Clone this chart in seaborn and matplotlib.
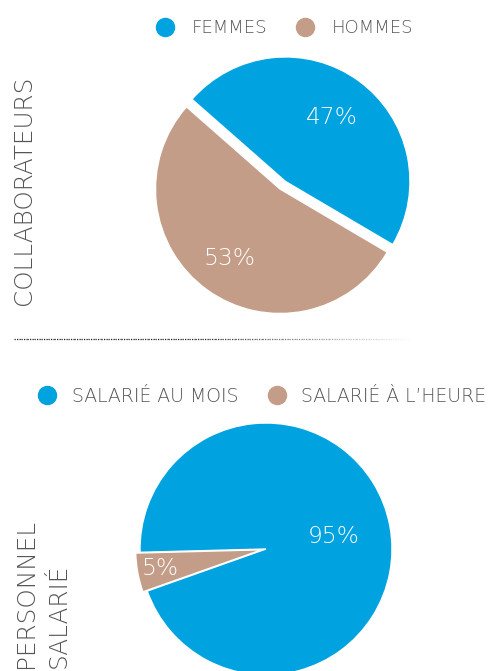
import matplotlib
matplotlib.use("Agg")
import matplotlib.pyplot as plt
import seaborn as sns
import numpy as np
from matplotlib.lines import Line2D

# ---- data ----
collab_labels = ["FEMMES", "HOMMES"]
collab_values = [47, 53]
salarie_labels = ["SALARIÉ AU MOIS", "SALARIÉ À L\u2019HEURE"]
salarie_values = [95, 5]
section_titles = ["COLLABORATEURS", "PERSONNEL", "SALARIÉ"]

sns.set_theme(style="white")
plt.rcParams['font.family'] = ['DejaVu Sans']
plt.rcParams['font.weight'] = 'light'

BLUE = "#00A2E0"
BROWN = "#C49D88"
TXT = "#555555"
colors = sns.color_palette([BLUE, BROWN])

W, H = 492, 671
fig = plt.figure(figsize=(W / 100, H / 100), dpi=100)


def px_axes(cx, cy, half):
    return fig.add_axes([(cx - half) / W, (H - cy - half) / H, 2 * half / W, 2 * half / H])


def label_wedges(ax, wedges, values, dists, size):
    for w, v, d in zip(wedges, values, dists):
        th = np.deg2rad((w.theta1 + w.theta2) / 2)
        x = w.center[0] + d * w.r * np.cos(th)
        y = w.center[1] + d * w.r * np.sin(th)
        ax.text(x, y, f"{v}%", color="white", fontsize=size, fontweight="light",
                ha="center", va="center")


# ---- top pie ----
r1 = 124.5
ax1 = px_axes(280, 189, 135)
w1, _ = ax1.pie(collab_values, colors=colors, startangle=-30.5, counterclock=True,
                explode=[0.075, 0], wedgeprops=dict(edgecolor="white", linewidth=1))
lim = 135 / r1
ax1.set_xlim(-lim, lim); ax1.set_ylim(-lim, lim)
ax1.set_aspect("auto")
ax1.axis("off")
label_wedges(ax1, w1, collab_values, [0.63, 0.69], 16.8)

# ---- bottom pie ----
r2 = 126
ax2 = px_axes(266, 549, 135)
w2, _ = ax2.pie(salarie_values, colors=colors, startangle=199.5, counterclock=True,
                explode=[0, 0.035], wedgeprops=dict(edgecolor="white", linewidth=1))
lim = 135 / r2
ax2.set_xlim(-lim, lim); ax2.set_ylim(-lim, lim)
ax2.set_aspect("auto")
ax2.axis("off")
label_wedges(ax2, w2, salarie_values, [0.55, 0.82], 16.8)

# ---- legends ----
def make_legend(labels, cx, cy, size, pad, colspace):
    handles = [Line2D([], [], marker="o", linestyle="none", markersize=13,
                      markerfacecolor=c, markeredgecolor=c) for c in colors]
    leg = fig.legend(handles, labels, loc="center", bbox_to_anchor=(cx / W, 1 - cy / H),
                     ncol=2, frameon=False, handletextpad=pad, columnspacing=colspace,
                     handlelength=1.0, borderpad=0,
                     prop=dict(size=size, weight="light"))
    for t in leg.get_texts():
        t.set_color(TXT)
    return leg

make_legend(collab_labels, 284.5, 28, 13, 1.0, 1.55)
make_legend(salarie_labels, 262, 396, 13.6, 0.78, 1.55)

# ---- section titles ----
for s, x, y, va in [(section_titles[0], 24, 190, "center"), (section_titles[1], 26, 668, "bottom"),
                    (section_titles[2], 59, 668, "bottom")]:
    fig.text(x / W, 1 - y / H, s, rotation=90, ha="center", va=va,
             fontsize=17.8, fontweight="light", color=TXT)

# ---- fading dotted separator ----
xs = np.linspace(14, 410, 60)
for i in range(len(xs) - 1):
    a = 1.0 if xs[i] < 200 else max(0.0, 1 - (xs[i] - 200) / 210)
    fig.add_artist(Line2D([xs[i] / W, xs[i + 1] / W], [1 - 339 / H, 1 - 339 / H],
                          color="#222222", linestyle=(0, (1, 1)), linewidth=0.9, alpha=a))

fig.savefig("out.png", dpi=100)
